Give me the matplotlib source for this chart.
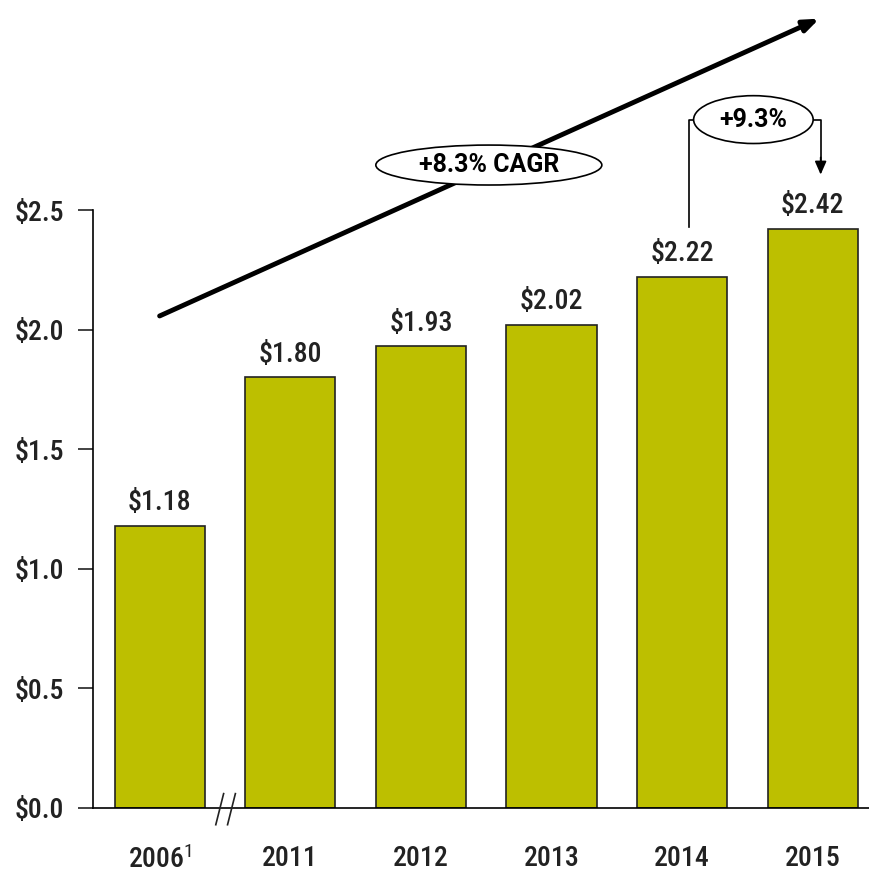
import matplotlib
matplotlib.use("Agg")
import matplotlib.pyplot as plt
from matplotlib.patches import Ellipse

years = ['2006$^{1}$', '2011', '2012', '2013', '2014', '2015']
values = [1.18, 1.80, 1.93, 2.02, 2.22, 2.42]
yticks = [0.0, 0.5, 1.0, 1.5, 2.0, 2.5]

plt.rcParams['font.family'] = ['Roboto Condensed', 'DejaVu Sans']
plt.rcParams['mathtext.fontset'] = 'custom'
plt.rcParams['mathtext.rm'] = 'Roboto Condensed'
plt.rcParams['mathtext.default'] = 'rm'

fs = 20
fw = 'medium'
tc = '#222222'

fig = plt.figure(figsize=(8.69, 8.75), dpi=100)
ax = fig.add_axes([0.107, 0.0766, 0.893, 0.9234])

x = list(range(len(years)))
ax.bar(x, values, width=0.69, color='#bdbf00', edgecolor=tc, linewidth=1.2, zorder=2)

for xi, v in zip(x, values):
    ax.annotate('\\$%.2f' % v, (xi, v), xytext=(0, 7), textcoords='offset points',
                ha='center', va='bottom', fontsize=fs, fontweight=fw, color=tc)

ax.set_xlim(-0.51, 5.43)
ax.set_ylim(0, 3.378)
ax.set_yticks(yticks)
ax.set_yticklabels(['\\$%.1f' % t for t in yticks], fontsize=fs, fontweight=fw, color=tc)
ax.set_xticks(x)
ax.set_xticklabels(years, fontsize=fs, fontweight=fw, color=tc)
ax.tick_params(axis='x', length=0, pad=27)
ax.tick_params(axis='y', length=11, width=1.2, pad=10, color=tc)

for s in ['top', 'right']:
    ax.spines[s].set_visible(False)
ax.spines['left'].set_bounds(0, 2.5)
ax.spines['left'].set_linewidth(1.2)
ax.spines['bottom'].set_linewidth(1.2)

# axis break marks
for bx in (0.46, 0.55):
    ax.plot([bx + 0.03, bx - 0.03], [0.06, -0.07], color=tc, lw=1.2,
            clip_on=False, zorder=3)

# CAGR arrow
ax.annotate('', xy=(5.05, 3.30), xytext=(0.0, 2.057),
            arrowprops=dict(arrowstyle='-|>,head_length=0.9,head_width=0.35',
                            color='black', lw=3.5, shrinkA=0, shrinkB=0))
ax.add_patch(Ellipse((2.52, 2.688), 1.73, 0.167, facecolor='white',
                     edgecolor='black', lw=1.2, zorder=4))
ax.text(2.52, 2.688, '+8.3% CAGR', ha='center', va='center', fontsize=18,
        fontweight='bold', family=['Roboto', 'DejaVu Sans'], zorder=5)

# year-over-year bracket
ex, ey = 4.545, 2.878
ax.plot([4.05, 4.05, 4.13], [2.43, ey, ey], color='black', lw=1.2)
ax.plot([4.97, 5.06, 5.06], [ey, ey, 2.70], color='black', lw=1.2)
ax.annotate('', xy=(5.06, 2.648), xytext=(5.06, 2.72),
            arrowprops=dict(arrowstyle='-|>,head_length=0.8,head_width=0.35',
                            color='black', lw=1.2, shrinkA=0, shrinkB=0))
ax.add_patch(Ellipse((ex, ey), 0.915, 0.2, facecolor='white',
                     edgecolor='black', lw=1.2, zorder=4))
ax.text(ex, ey, '+9.3%', ha='center', va='center', fontsize=18,
        fontweight='bold', family=['Roboto', 'DejaVu Sans'], zorder=5)

fig.savefig('out.png', dpi=100)
